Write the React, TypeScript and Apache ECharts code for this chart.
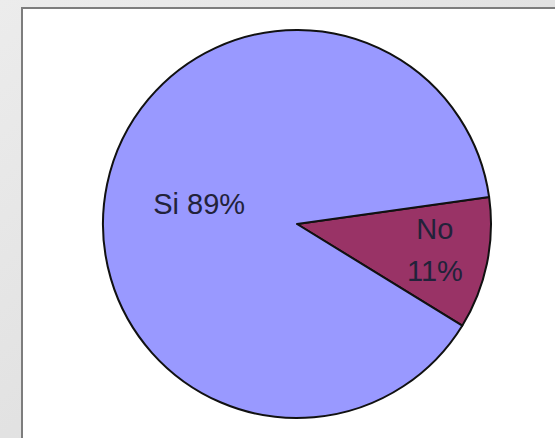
import React, { useEffect, useRef } from "react";
import * as echarts from "echarts";

const categories = ["No", "Si"];
const values = [11, 89];
const percentLabels = ["11%", "89%"];
const sliceColors = ["#993366", "#9999ff"];

export default function App() {
  const ref = useRef<HTMLDivElement>(null);
  useEffect(() => {
    document.body.style.margin = "0";
    const chart = echarts.init(ref.current!, null, { renderer: "svg" });
    chart.setOption({
      animation: false,
      backgroundColor: {
        type: "linear",
        x: 0,
        y: 0,
        x2: 1,
        y2: 1,
        colorStops: [
          { offset: 0, color: "#ececec" },
          { offset: 0.5, color: "#e2e2e2" },
          { offset: 1, color: "#e6e6e6" },
        ],
      },
      graphic: [
        {
          type: "rect",
          shape: { x: 22, y: 8, width: 620, height: 520 },
          style: { fill: "#ffffff", stroke: "#7d7d7d", lineWidth: 2 },
          z: 0,
        },
      ],
      series: [
        {
          type: "pie",
          center: [297, 224],
          radius: [0, 194],
          startAngle: 8,
          clockwise: true,
          silent: true,
          z: 2,
          itemStyle: { borderColor: "#111", borderWidth: 2 },
          label: {
            show: true,
            position: "inside",
            fontFamily: "Liberation Sans, Arial, sans-serif",
            fontSize: 29,
            color: "#22223a",
            lineHeight: 42,
          },
          labelLine: { show: false },
          data: categories.map((name, i) => ({
            name,
            value: values[i],
            itemStyle: { color: sliceColors[i] },
            label:
              name === "No"
                ? {
                    formatter: name + "\n" + percentLabels[i],
                    offset: [40, 6],
                  }
                : { formatter: name + " " + percentLabels[i] },
          })),
        },
      ],
    });
    return () => chart.dispose();
  }, []);
  return <div ref={ref} style={{ width: 555, height: 438 }} />;
}
